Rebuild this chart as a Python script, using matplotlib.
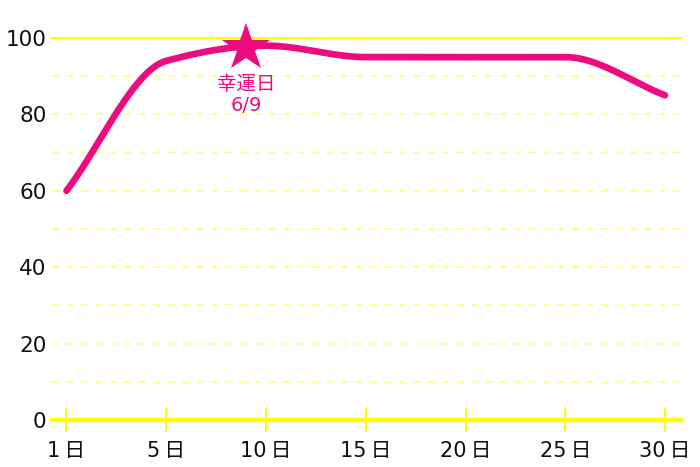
import numpy as np
import matplotlib
matplotlib.use("Agg")
from matplotlib import pyplot as plt

plt.rcParams['font.family'] = ['DejaVu Sans', 'Noto Sans CJK JP']

day_labels = ['1\u2009日', '5\u2009日', '10\u2009日', '15\u2009日', '20\u2009日', '25\u2009日', '30\u2009日']
fortune = [60, 94, 98, 95, 95, 95, 85]
y_ticks = [0, 20, 40, 60, 80, 100]

lucky_pos = 1.8      # day 9, between 5日 and 10日
lucky_value = 97.5
lucky_text = '幸運日\n6/9'

pink = '#EC0C80'
yellow = '#FFFF00'
pale_yellow = '#FFFF88'


def monotone_curve(xs, ys, n=400):
    # Fritsch-Carlson monotone cubic, just for drawing a smooth line
    xs = np.asarray(xs, float)
    ys = np.asarray(ys, float)
    h = np.diff(xs)
    d = np.diff(ys) / h
    m = np.zeros_like(ys)
    m[0], m[-1] = d[0], d[-1]
    for i in range(1, len(ys) - 1):
        if d[i - 1] * d[i] <= 0:
            m[i] = 0
        else:
            m[i] = 2 * d[i - 1] * d[i] / (d[i - 1] + d[i])
    xx = np.linspace(xs[0], xs[-1], n)
    idx = np.clip(np.searchsorted(xs, xx) - 1, 0, len(h) - 1)
    t = (xx - xs[idx]) / h[idx]
    h00 = 2 * t**3 - 3 * t**2 + 1
    h10 = t**3 - 2 * t**2 + t
    h01 = -2 * t**3 + 3 * t**2
    h11 = t**3 - t**2
    yy = (h00 * ys[idx] + h10 * h[idx] * m[idx]
          + h01 * ys[idx + 1] + h11 * h[idx] * m[idx + 1])
    return xx, yy


fig = plt.figure(figsize=(7, 4.67), dpi=100)
W, H = 700, 467
ax = fig.add_axes([52 / W, 1 - 420 / H, (681 - 52) / W, (420 - 38) / H])

x = np.arange(len(fortune))
ax.set_xlim(-0.145, 6.16)
ax.set_ylim(0, 100)

for v in range(10, 100, 10):
    ax.axhline(v, color=pale_yellow, lw=1.3, ls=(0, (4, 4)), zorder=1, clip_on=False)
ax.axhline(100, color=yellow, lw=1.5, zorder=1, clip_on=False)
ax.axhline(0, color=yellow, lw=3.2, zorder=2, clip_on=False)

xx, yy = monotone_curve(x, fortune)
ax.plot(xx, yy, color=pink, lw=4.8, solid_capstyle='round', zorder=3, clip_on=False)

ax.plot([lucky_pos], [lucky_value], marker='*', color=pink, markersize=36,
        markeredgewidth=0, zorder=4, clip_on=False)
ax.text(lucky_pos, 90.3, lucky_text, color=pink, fontsize=14, ha='center',
        va='top', linespacing=1.15, zorder=4)

for s in ax.spines.values():
    s.set_visible(False)

ax.set_xticks(x)
ax.set_xticklabels(day_labels, fontsize=15, color='#111111')
ax.tick_params(axis='x', direction='inout', length=17, width=1.6, color=yellow, pad=6.5)
ax.set_yticks(y_ticks)
ax.set_yticklabels([str(v) for v in y_ticks], fontsize=15.5, color='#111111')
ax.tick_params(axis='y', length=0, pad=4)

fig.savefig('out.png', dpi=100)
